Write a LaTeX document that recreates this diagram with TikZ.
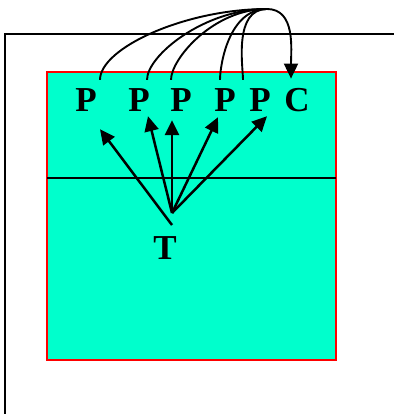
\documentclass[tikz,border=0pt]{standalone}
\usepackage{fontspec}
\setmainfont{Liberation Serif}
\usetikzlibrary{arrows.meta}
\definecolor{boxfill}{HTML}{00FFCC}

\begin{document}
\begin{tikzpicture}[x=1pt, y=-1pt, >={Triangle[length=15pt,width=14pt]}]
  \useasboundingbox (0,0) rectangle (394,414);
  \tikzset{
    letter/.style={font=\fontsize{35}{42}\selectfont\bfseries, inner sep=9pt, anchor=base},
    link/.style={line width=1.9pt},
    push/.style={line width=2.5pt, ->},
  }
  % Frame
  \draw[line width=1.6pt] (5,414) -- (5,34) -- (394,34);
  % Box
  \draw[red, fill=boxfill, line width=1.8pt] (47,72) rectangle (336,360);
  \draw[line width=1.6pt] (47,178) -- (336,178);
  % Letters
  \foreach \n/\x in {1/86, 2/139, 3/181, 4/225, 5/260}
    \node[letter] (p\n) at (\x,112) {P};
  \node[letter] (c) at (297,112) {C};
  \node[letter] (t) at (165,259) {T};
  \coordinate (apex) at (267,9);
  \coordinate (fan) at (172,213);
  % Links over the top
  \foreach \n/\dx in {1/14, 2/8, 3/-10, 4/-5, 5/-17}
    \draw[link] ([xshift=\dx pt]p\n.north) to[out=90, in=180, out looseness=0.45, in looseness=1.15] (apex);
  \draw[link, ->] (apex) to[out=0, in=90] ([xshift=-6pt, yshift=1pt]c.north);
  % Arrows from T
  \foreach \n/\dx/\dy/\s in {1/14/-8/-12, 2/9/5/0, 3/-9/1/0, 4/-7/4/0, 5/7/5/0}
    \draw[push] ([yshift=\s pt]fan) -- ([xshift=\dx pt, yshift=\dy pt]p\n.south);
\end{tikzpicture}
\end{document}
